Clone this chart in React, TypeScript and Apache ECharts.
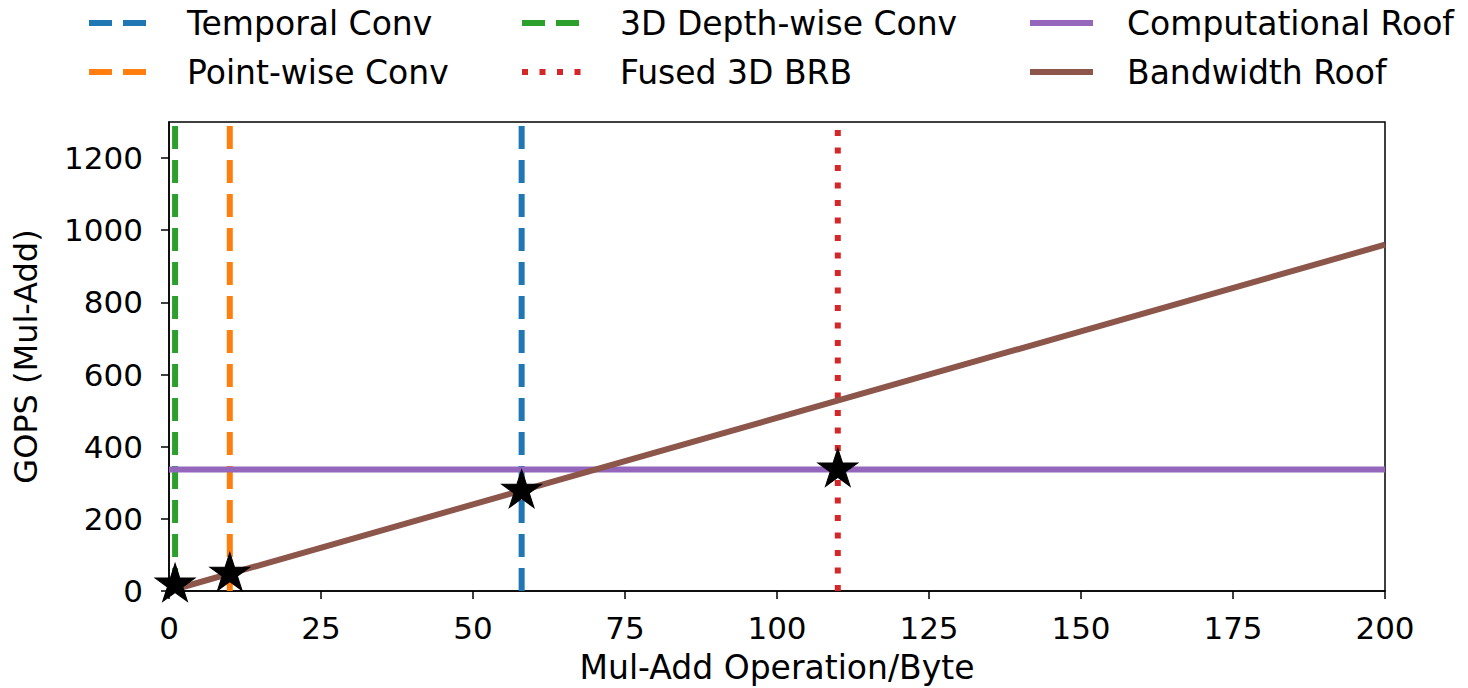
import React, { useEffect, useRef } from "react";
import * as echarts from "echarts";

const xTicks = [0, 25, 50, 75, 100, 125, 150, 175, 200];
const yTicks = [0, 200, 400, 600, 800, 1000, 1200];
const xMax = 200;
const yMax = 1300;

const kernelNames = ["Temporal Conv", "Point-wise Conv", "3D Depth-wise Conv", "Fused 3D BRB"];
const kernelX = [58, 10, 1, 110];
const kernelColors = ["#1f77b4", "#ff7f0e", "#2ca02c", "#d62728"];
const kernelDash = ["dashed", "dashed", "dashed", "dotted"];

const roofNames = ["Computational Roof", "Bandwidth Roof"];
const roofColors = ["#9467bd", "#8c564b"];
const computeRoofX = [0, 200];
const computeRoofY = [337, 337];
const bandwidthRoofX = [0, 200];
const bandwidthRoofY = [0, 960];

const starX = [1, 10, 58, 110];
const starY = [18, 48, 278, 337];

// legend layout: columns (column-major order as in the reference)
const legendNames = [
  ["Temporal Conv", "Point-wise Conv"],
  ["3D Depth-wise Conv", "Fused 3D BRB"],
  ["Computational Roof", "Bandwidth Roof"],
];

const STAR =
  "path://M0,-100L22.45,-30.9L95.1,-30.9L36.3,11.8L58.8,80.9L0,38.2L-58.8,80.9L-36.3,11.8L-95.1,-30.9L-22.45,-30.9Z";

const FONT = "DejaVu Sans";
const DASH = [23, 11];
const DOT = [6, 11.5];

function styleOf(name: string) {
  const k = kernelNames.indexOf(name);
  if (k >= 0) return { color: kernelColors[k], dash: kernelDash[k] === "dashed" ? DASH : DOT };
  const r = roofNames.indexOf(name);
  return { color: roofColors[r], dash: null as number[] | null };
}

export default function App() {
  const ref = useRef<HTMLDivElement>(null);
  useEffect(() => {
    if (!ref.current) return;
    const chart = echarts.init(ref.current, undefined, { renderer: "svg" });

    const vSeries = kernelNames.map((name, i) => ({
      name,
      type: "line",
      data: [
        [kernelX[i], 0],
        [kernelX[i], yMax],
      ],
      symbol: "none",
      silent: true,
      z: 2,
      lineStyle: {
        color: kernelColors[i],
        width: 6,
        type: kernelDash[i] === "dashed" ? DASH : DOT,
        cap: "butt",
      },
      itemStyle: { color: kernelColors[i] },
    }));

    const colIconX = [89, 522, 1030];
    const colTextX = [187, 620, 1127];
    const rowY = [23, 72];
    const legendGraphics: any[] = [];
    legendNames.forEach((col, c) => {
      col.forEach((name, r) => {
        const s = styleOf(name);
        legendGraphics.push({
          type: "line",
          silent: true,
          shape: { x1: colIconX[c], y1: rowY[r], x2: colIconX[c] + 63, y2: rowY[r] },
          style: {
            stroke: s.color,
            lineWidth: 6,
            lineDash: s.dash || undefined,
            lineCap: "butt",
          },
        });
        legendGraphics.push({
          type: "text",
          silent: true,
          x: colTextX[c],
          y: rowY[r],
          style: {
            text: name,
            fill: "#000",
            font: `33px "${FONT}"`,
            fontFamily: FONT,
            fontSize: 33,
            verticalAlign: "middle",
            align: "left",
          },
        });
      });
    });

    chart.setOption({
      animation: false,
      backgroundColor: "#fff",
      textStyle: { fontFamily: FONT },
      graphic: legendGraphics,
      grid: {
        left: 169,
        right: 83,
        top: 122,
        bottom: 97,
        show: true,
        borderColor: "#000",
        borderWidth: 1.5,
        backgroundColor: "transparent",
        containLabel: false,
        outerBoundsMode: "none",
      },
      xAxis: {
        type: "value",
        min: 0,
        max: xMax,
        interval: 25,
        name: "Mul-Add Operation/Byte",
        nameLocation: "middle",
        nameGap: 60,
        nameTextStyle: { fontFamily: FONT, fontSize: 33, color: "#000" },
        axisLine: { show: true, onZero: false, lineStyle: { color: "#000", width: 1.5 } },
        axisTick: { show: true, length: 8, lineStyle: { color: "#000", width: 1.5 }, customValues: xTicks },
        axisLabel: {
          fontFamily: FONT,
          fontSize: 31,
          color: "#000",
          margin: 21,
          customValues: xTicks,
          formatter: (v: number) => String(v),
        },
        splitLine: { show: false },
      },
      yAxis: {
        type: "value",
        min: 0,
        max: yMax,
        interval: 100,
        name: "GOPS (Mul-Add)",
        nameLocation: "middle",
        nameGap: 127,
        nameTextStyle: { fontFamily: FONT, fontSize: 32, color: "#000" },
        axisLine: { show: true, onZero: false, lineStyle: { color: "#000", width: 1.5 } },
        axisTick: { show: true, length: 8, lineStyle: { color: "#000", width: 1.5 }, customValues: yTicks },
        axisLabel: {
          fontFamily: FONT,
          fontSize: 31,
          color: "#000",
          margin: 26,
          customValues: yTicks,
          formatter: (v: number) => String(v),
        },
        splitLine: { show: false },
      },
      series: [
        ...vSeries,
        {
          name: "Computational Roof",
          type: "line",
          data: computeRoofX.map((x, i) => [x, computeRoofY[i]]),
          symbol: "none",
          silent: true,
          z: 3,
          lineStyle: { color: roofColors[0], width: 6, type: "solid" },
          itemStyle: { color: roofColors[0] },
        },
        {
          name: "Bandwidth Roof",
          type: "line",
          data: bandwidthRoofX.map((x, i) => [x, bandwidthRoofY[i]]),
          symbol: "none",
          silent: true,
          z: 4,
          lineStyle: { color: roofColors[1], width: 6, type: "solid" },
          itemStyle: { color: roofColors[1] },
        },
        {
          name: "Measured",
          type: "scatter",
          data: starX.map((x, i) => [x, starY[i]]),
          symbol: STAR,
          symbolSize: [40, 38],
          symbolOffset: [0, -2],
          clip: true,
          z: 5,
          itemStyle: { color: "#000", borderColor: "#000", borderWidth: 1, opacity: 1 },
        },
      ],
    });
    return () => chart.dispose();
  }, []);
  return (
    <div
      ref={ref}
      style={{ position: "fixed", left: 0, top: 0, width: 1468, height: 688 }}
    />
  );
}
